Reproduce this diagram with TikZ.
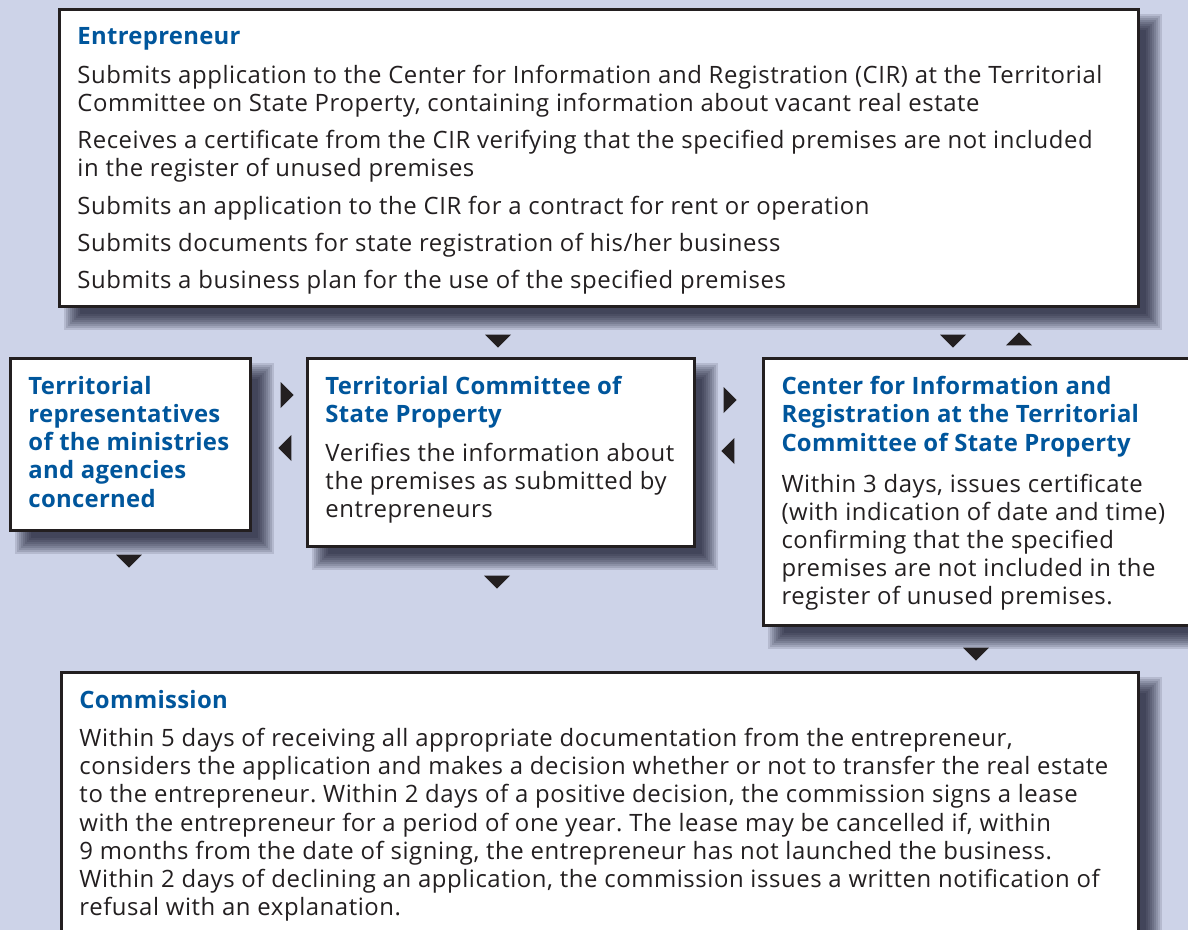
\documentclass[tikz,border=0pt]{standalone}
\usepackage{fontspec}
\setmainfont{Open Sans}[LetterSpace=2.4, BoldFeatures={LetterSpace=1.2}]
\usetikzlibrary{shapes.geometric,backgrounds}
\frenchspacing

\definecolor{panel}{RGB}{205,211,232}
\definecolor{heading}{RGB}{0,86,156}
\definecolor{ink}{RGB}{35,31,32}
\definecolor{shadowtint}{RGB}{8,8,30}

\newdimen\pxu \pxu=0.02cm
% heading line inside a box
\newcommand{\hd}[1]{{\bfseries\color{heading}#1}}
% top-aligned text block: width, height (in px), contents
\newcommand{\boxtext}[3]{\begin{minipage}[t][#2\pxu][t]{#1\pxu}\raggedright #3\end{minipage}}
% soft drop shadow behind a box, built from stacked translucent rectangles
\newcommand{\dropshadow}[1]{%
  \foreach \e in {8,6,...,-8}
    \fill[shadowtint, opacity=0.12]
      ([xshift={(14-\e)*\pxu}, yshift={(-14+\e)*\pxu}]#1.north west) rectangle
      ([xshift={(14+\e)*\pxu}, yshift={(-14-\e)*\pxu}]#1.south east);}

\tikzset{
  box/.style={draw=ink, line width=0.06cm, fill=white, anchor=north west,
    inner xsep=0.36cm, inner ysep=0.36cm, text=ink,
    font=\fontsize{13.6}{16}\selectfont},
  tri/.style={isosceles triangle, isosceles triangle stretches, fill=ink,
    inner sep=0, minimum width=0.52cm, minimum height=0.26cm},
}

\begin{document}
\begin{tikzpicture}[x=0.02cm, y=-0.02cm]
  \useasboundingbox (0,0) rectangle (1188,930);

  % Entrepreneur
  \node[box] (entr) at (58,8) {\boxtext{1043}{261}{%
    \hd{Entrepreneur}\\[0.22cm]
    Submits application to the Center for Information and Registration (CIR) at the Territorial\\
    Committee on State Property, containing information about vacant real estate\\[0.18cm]
    Receives a certificate from the CIR verifying that the specified premises are not included\\
    in the register of unused premises\\[0.18cm]
    Submits an application to the CIR for a contract for rent or operation\\[0.18cm]
    Submits documents for state registration of his/her business\\[0.18cm]
    Submits a business plan for the use of the specified premises}};

  % Middle row
  \node[box] (reps) at (9,357) {\boxtext{204}{136}{%
    \hd{Territorial\\ representatives\\ of the ministries\\ and agencies\\ concerned}}};

  \node[box] (tcsp) at (306,357) {\boxtext{351}{152}{%
    \hd{Territorial Committee of\\ State Property}\\[0.2cm]
    Verifies the information about\\
    the premises as submitted by\\
    entrepreneurs}};

  \node[box] (cir) at (762,357) {\boxtext{420}{231}{%
    \hd{Center for Information and\\ Registration at the Territorial\\ Committee of State Property}\\[0.26cm]
    Within 3 days, issues certificate\\
    (with indication of date and time)\\
    confirming that the specified\\
    premises are not included in the\\
    register of unused premises.}};

  % Commission
  \node[box] (comm) at (60,671) {\boxtext{1041}{300}{%
    \hd{Commission}\\[0.2cm]
    Within 5 days of receiving all appropriate documentation from the entrepreneur,\\
    considers the application and makes a decision whether or not to transfer the real estate\\
    to the entrepreneur. Within 2 days of a positive decision, the commission signs a lease\\
    with the entrepreneur for a period of one year. The lease may be cancelled if, within\\
    9 months from the date of signing, the entrepreneur has not launched the business.\\
    Within 2 days of declining an application, the commission issues a written notification of\\
    refusal with an explanation.}};

  % Flow marks between the boxes
  \node[tri, shape border rotate=270] (entr-down) at (498,340) {};
  \node[tri, shape border rotate=270] (cir-down) at (953,340) {};
  \node[tri, shape border rotate=90] (cir-up) at (1019,340) {};
  \node[tri, shape border rotate=0] (reps-right) at (286,395) {};
  \node[tri, shape border rotate=180] (reps-left) at (286,448) {};
  \node[tri, shape border rotate=0] (tcsp-right) at (729,400) {};
  \node[tri, shape border rotate=180] (tcsp-left) at (729,451) {};
  \node[tri, shape border rotate=270] (reps-out) at (129,560) {};
  \node[tri, shape border rotate=270] (tcsp-out) at (497,581) {};
  \node[tri, shape border rotate=270] (comm-in) at (976,653) {};

  % Panel and shadows
  \begin{pgfonlayer}{background}
    \fill[panel] (0,0) rectangle (1188,930);
    \dropshadow{entr}
    \dropshadow{reps}
    \dropshadow{tcsp}
    \dropshadow{cir}
    \dropshadow{comm}
  \end{pgfonlayer}

\end{tikzpicture}
\end{document}
